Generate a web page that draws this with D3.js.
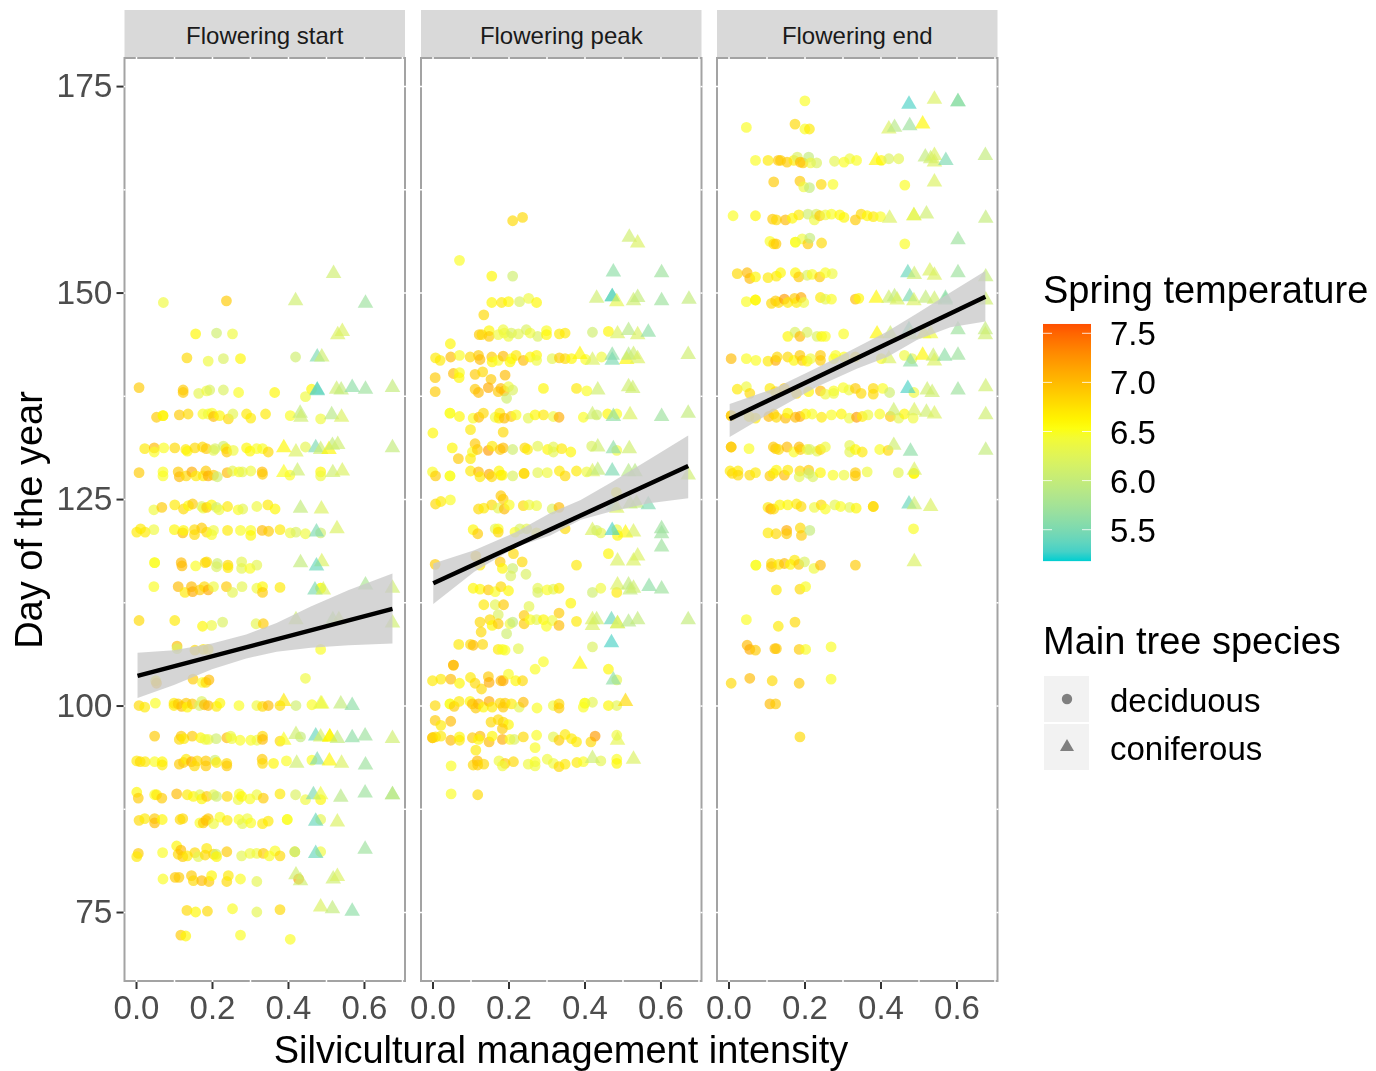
<!DOCTYPE html>
<html lang="en">
<head>
<meta charset="UTF-8">
<title>Flowering phenology</title>
<script src="https://d3js.org/d3.v7.min.js"></script>
<style>
  body { margin: 0; background: #fff; }
  svg { display: block; font-family: "Liberation Sans", Arial, sans-serif; filter: blur(0.45px); }
</style>
</head>
<body>
<div id="chart"></div>
<script>
// each point is [management intensity, day of year, spring temperature]
const startDeciduous = [
[.072,148.8,6.4],[.238,149,6.9],[.157,145,6.6],[.212,145.1,6.1],[.254,145,6.4],[.134,142.1,6.8],[.19,141.7,6.4],[.23,142,6.2],[.275,142,6.6],[.42,142.2,6.1],
[.008,138.5,6.9],[.124,138.2,6.9],[.124,137.9,6.9],[.165,137.8,6.3],[.186,138.1,6.4],[.194,138.2,6.2],[.23,138.2,6.2],[.27,137.9,6.5],[.365,137.9,6.6],[.462,138.3,6.6],[.446,137.4,6.4],
[.054,134.9,6.9],[.071,135.1,6.7],[.071,135.1,6.6],[.114,135.2,6.9],[.137,135.3,6.8],[.176,135.3,6.5],[.19,135.3,6.4],[.2,135.4,6.5],[.204,135,7],[.22,135.1,6.6],[.243,134.7,6.8],[.255,135.3,6.3],[.291,135.3,6.7],[.302,134.8,6.7],[.341,135.3,6.7],[.406,135.1,6.5],[.486,134.7,6.4],
[.023,131.1,6.7],[.048,131.2,7],[.048,130.7,6.5],[.073,131.2,6.5],[.102,131.2,6.8],[.131,131,6.7],[.135,130.8,6.6],[.155,131.2,6.8],[.175,131.3,6.8],[.185,131.1,6.9],[.204,130.9,6.3],[.208,131.1,6.2],[.23,131.4,6.1],[.237,131.1,6.7],[.239,130.7,6.9],[.256,130.9,6.4],[.291,131.2,6.6],[.3,130.8,6.6],[.318,131.1,6.5],[.333,131.1,6.5],[.348,130.7,6.8],[.446,131.3,6.3],
[.008,128.2,6.9],[.071,128.3,6.5],[.071,127.8,6.5],[.111,128.3,6.9],[.114,127.7,7],[.132,127.8,6.8],[.147,128.3,7.1],[.158,127.8,6.7],[.177,127.8,6.7],[.184,128.4,6.9],[.19,127.8,7.1],[.204,127.9,6.9],[.214,127.7,6.1],[.24,128.2,7],[.254,128.4,6.3],[.271,128.3,6.5],[.28,128.3,6.3],[.302,128.4,6.4],[.332,128.3,7],[.333,128,6.9],[.405,127.9,6.5],[.486,128.3,6.6],[.486,127.8,6.4],
[.047,123.7,6.4],[.068,124,6.9],[.102,124.3,6.7],[.125,123.8,6.8],[.138,124.2,6.6],[.149,124.4,6.9],[.173,124.1,6.2],[.177,123.9,6.4],[.186,124,6.9],[.199,124.3,6.6],[.212,124,6.1],[.219,123.7,6.4],[.241,124.1,6.7],[.269,123.7,6.5],[.281,123.8,6.3],[.318,124.1,6.4],[.347,124.3,6.7],[.366,123.8,6.6],
[.002,121,6.7],[.012,121.4,6.7],[.024,121,6.7],[.047,121.3,6.4],[.101,121.3,6.6],[.123,120.9,7],[.125,121.2,6.6],[.154,121.3,6.8],[.154,120.7,6.8],[.173,121.5,6.9],[.186,121,6.8],[.199,120.7,6.5],[.204,121.2,6.4],[.241,121.2,6.7],[.275,121.2,6.5],[.302,121.2,6.5],[.302,120.6,6.6],[.332,121.2,7],[.349,121.1,6.9],[.379,121.3,6.7],[.406,120.9,6.4],[.421,121,6.2],[.446,120.8,6.4],[.486,120.9,6.1],
[.049,117.3,6.5],[.049,117.3,6.5],[.119,117.3,7],[.121,116.9,7],[.157,116.9,6.5],[.182,117.3,6.8],[.186,117.4,6.8],[.214,117.2,6.1],[.212,116.8,6.2],[.242,117,6.8],[.242,116.7,6.7],[.278,117.4,6.3],[.278,116.6,6.3],[.3,116.6,6.5],[.318,117,6.3],
[.047,114.4,6.5],[.111,114.4,7],[.129,113.7,6.7],[.146,114.4,7],[.149,113.8,7.1],[.168,114,6.9],[.18,114.4,6.8],[.19,114,7.1],[.204,114.4,6.4],[.238,114.4,6.9],[.254,113.7,6.3],[.279,114.4,6.3],[.318,114.2,6.4],[.333,114.4,6.6],[.333,113.7,6.9],[.379,114.3,6.7],[.486,114.2,6.5],[.486,114.2,6.5],
[.008,110.3,6.8],[.102,110.3,6.7],[.175,109.6,6.6],[.199,109.7,6.4],[.228,110.1,6.2],[.316,109.9,6.3],[.335,109.9,6.9],
[.108,107.2,7],[.108,106.9,6.2],[.155,106.7,6.8],[.177,106.8,6.7],[.19,106.8,6.7],[.486,106.8,6.5],
[.052,103,6.6],[.054,102.7,7],[.15,103.2,6.9],[.175,102.8,6.5],[.184,102.8,6.8],[.192,103.1,7],[.446,103.3,6.4],
[.008,100,6.8],[.023,99.8,6.7],[.051,100.3,6.5],[.1,100.3,6.7],[.1,100,6.7],[.111,100.2,6.9],[.12,99.9,7],[.132,100.3,6.9],[.135,99.8,6.6],[.148,100.2,6.9],[.167,100,6.2],[.173,100.5,6.2],[.18,100.1,7],[.19,100,7],[.212,99.9,6.7],[.221,100.3,6.6],[.271,100,6.5],[.318,100,6.4],[.333,99.9,6.8],[.348,100,7],[.379,100,6.8],[.421,100,6.1],[.463,100.1,6.5],
[.049,96.3,6.9],[.114,95.9,6.8],[.119,96.3,6.9],[.126,96,6.7],[.148,96.3,6.9],[.17,96.1,6.6],[.182,95.9,6.4],[.19,95.9,6.4],[.211,96,6.1],[.239,96.1,7],[.249,96.3,6.4],[.252,96,6.4],[.274,95.8,6.5],[.302,95.8,6.5],[.318,95.8,6.4],[.333,96.3,6.8],[.333,95.9,7],[.379,95.7,6.8],[.433,96.2,6],
[.002,93.3,6.7],[.011,93.2,6.8],[.024,93.2,6.7],[.049,93.2,6.5],[.069,93.2,6.6],[.069,92.8,6.7],[.114,92.9,6.9],[.125,93.1,6.9],[.132,93.5,6.7],[.146,93.2,7.1],[.154,92.7,6.8],[.161,93.3,6.8],[.184,93.3,6.9],[.184,92.7,6.9],[.208,93.4,6.1],[.212,93.1,6.7],[.239,93,6.8],[.239,92.7,6.9],[.332,93.5,6.9],[.333,93,6.8],[.362,93,6.6],[.396,93.3,6.5],[.463,93.4,6.5],
[.002,89.5,6.6],[.006,88.8,6.9],[.049,89.2,6.5],[.054,89.2,6.7],[.068,88.8,6.9],[.107,89.3,7],[.135,89.2,6.7],[.151,89,6.6],[.168,89.2,6.3],[.173,88.7,6.6],[.186,89,6.9],[.204,89.2,6.3],[.212,89,6.1],[.24,89,6.8],[.272,89.3,6.5],[.269,88.6,6.4],[.278,89,6.6],[.3,88.7,6.5],[.318,89.2,6.4],[.335,88.8,6.9],[.379,89.3,6.7],[.42,89.2,6.2],[.446,88.6,6.4],[.486,88.6,6.6],
[.008,86.1,6.8],[.023,86.3,6.7],[.049,86.3,6.9],[.049,85.8,7],[.069,86.2,6.6],[.116,86.2,6.8],[.123,86.3,6.8],[.168,85.8,6.5],[.177,85.8,6.9],[.184,86.1,7],[.19,86.3,6.9],[.204,85.7,6.4],[.221,86.5,6.5],[.24,86.1,6.7],[.271,86.2,6.5],[.28,85.7,6.3],[.293,86.3,6.4],[.302,85.8,6.5],[.333,85.7,6.7],[.348,86,6.7],[.398,86.2,6.5],[.398,86.2,6.5],[.486,86.2,6.3],
[.006,82.1,6.9],[.002,81.7,6.7],[.07,82.2,6.5],[.107,83,6.6],[.111,82,6.8],[.118,82.5,7],[.123,81.7,6.9],[.135,81.8,6.7],[.155,82.2,6.8],[.164,81.7,6.3],[.186,82.7,6.7],[.182,81.9,6.8],[.204,82,6.8],[.211,82,6.1],[.212,81.7,6.6],[.239,82.3,6.9],[.278,81.8,6.3],[.3,82.1,6.4],[.318,82.1,6.4],[.335,82.1,6.9],[.351,81.8,6.5],[.366,82.4,6.5],[.379,81.8,6.8],[.418,82.3,6.7],[.418,82.3,6],[.486,82.3,6.4],
[.071,79,6.5],[.103,79.2,6.9],[.113,79.2,6.9],[.146,79.4,6.9],[.151,78.8,6.8],[.173,78.8,7],[.192,78.7,6.9],[.199,79.4,6.6],[.239,78.7,6.8],[.243,79.4,6.7],[.275,79,6.5],[.318,78.7,6.3],[.428,79,7.2],
[.134,75.2,6.8],[.157,75,6.6],[.188,75.1,6.8],[.254,75.4,6.5],[.318,75,6.3],[.379,75.3,6.8],
[.118,72.2,6.9],[.131,72.1,6.6],[.275,72.2,6.5],[.406,71.7,6.5]
];
const startConiferous = [
[.52,152.3,6.1],[.42,149,6.1],[.604,148.7,5.7],[.531,144.9,6.2],[.543,145.3,6.2],[.477,142.2,5.5],[.489,142.2,6.1],
[.477,138.2,5.3],[.477,138.1,5.4],[.528,138.3,6.1],[.54,138.2,6],[.569,138.5,5.6],[.604,138.3,5.7],[.675,138.5,6],
[.432,135.4,6],[.434,134.9,6.1],[.515,135.2,5.9],[.541,134.9,6.2],
[.389,131.2,6.6],[.421,130.7,6.2],[.473,131.2,5.5],[.486,131,6.1],[.508,131,6.6],[.517,131.5,6],[.531,131.6,6.1],[.675,131.2,6],
[.389,128.2,6.5],[.425,128.4,6.1],[.518,128.2,6.1],[.543,128.4,6.2],[.433,123.9,6],[.488,123.8,6.2],
[.475,121,5.5],[.529,121.4,6.2],[.433,117.3,6],[.489,117.4,6.2],[.475,116.9,5.4],
[.471,114,5.5],[.493,114,6.2],[.604,114.6,5.8],[.675,114.2,6.1],
[.421,110.4,6.1],[.518,110.4,5.9],[.534,110.4,6.1],[.675,110,6.1],
[.389,100.5,6.7],[.486,100.2,6.3],[.489,100.2,6.4],[.539,100.2,6],[.569,100,5.6],
[.389,95.8,6.5],[.421,96.5,6.1],[.473,96.3,5.4],[.486,96.2,6.2],[.51,96.2,6.6],[.51,96.2,6.6],[.53,96,6],[.569,96.1,5.6],[.603,96.3,5.7],[.675,96,6.1],
[.423,93,6.1],[.477,93.4,5.5],[.509,93.3,6.6],[.541,93,6.2],[.604,92.8,5.7],
[.467,89.2,5.5],[.486,89.2,6.4],[.539,88.9,5.9],[.603,89.4,5.7],[.675,89.2,5.9],[.675,89.2,5.9],
[.473,86,5.4],[.53,85.9,6.2],[.473,82.1,5.4],[.603,82.6,5.7],
[.421,79.5,6.1],[.433,78.8,6.1],[.519,79,6.1],[.53,79.3,6.2],[.486,75.6,6.2],[.517,75.4,6],[.569,75.1,5.6]
];
const peakDeciduous = [
[.211,158.7,6.8],[.237,159.1,6.8],[.071,153.9,6.5],[.156,152,6.6],[.211,152,6.1],
[.156,148.8,6.6],[.182,148.8,6.7],[.2,148.9,6.6],[.229,148.9,6.2],[.253,149.3,6.4],[.274,148.8,6.6],[.135,147.3,6.8],
[.149,145.4,6.6],[.123,144.9,6.9],[.13,144.9,6.8],[.149,144.7,6.9],[.173,144.9,6.4],[.186,145.5,6.4],[.189,145.1,6.4],[.2,144.7,6.4],[.208,145.1,6.2],[.226,145,6.3],[.247,145.5,6.2],[.257,145.1,6.4],[.277,144.7,6.2],[.3,145.4,6.5],[.3,144.9,6.6],[.334,145,6.7],[.349,145.1,6.7],[.421,145.2,6.1],[.463,145.3,6.6],
[.047,143.8,6.6],[.008,142.1,6.7],[.02,141.8,6.7],[.048,142.2,7],[.071,142.4,6.5],[.099,142.2,6.8],[.121,142.4,6.9],[.125,141.9,7],[.156,142.2,6.9],[.157,141.6,6.6],[.173,141.8,6.5],[.186,142.3,7],[.208,142,6.5],[.204,141.6,6.6],[.22,142.4,6.7],[.239,141.8,7],[.257,142.2,6.6],[.274,142.4,6.6],[.274,141.8,6.4],[.315,142,6.3],[.334,142.1,6.9],[.349,142,6.8],[.366,142,6.6],[.403,141.9,6.5],[.445,142.2,6.4],
[.007,139.7,6.9],[.055,140.2,7],[.071,140.3,6.5],[.07,139.7,6.6],[.112,140.1,6.9],[.132,140.4,6.8],[.154,139.5,6.9],[.191,140,7],
[.007,138,6.9],[.112,138.3,6.9],[.121,137.9,7],[.147,138.5,7.1],[.173,138,6.9],[.18,138.4,7],[.189,138.1,7],[.2,138.6,6.4],[.211,138.2,6.2],[.195,137.2,6.1],[.292,138.4,6.6],[.379,138.4,6.7],[.406,138.1,6.5],
[.046,135.4,6.5],[.046,135.4,6.5],[.071,135,6.6],[.107,134.8,6.5],[.122,134.9,7],[.134,135.4,6.8],[.165,134.9,6.4],[.177,135.4,6.7],[.175,134.8,6.7],[.189,134.8,7],[.207,135,6.9],[.22,135.2,6.5],[.252,134.8,6.3],[.27,135.2,6.6],[.292,135.2,6.7],[.318,135,6.4],[.333,134.9,7.1],[.397,134.9,6.5],[.432,135.2,6.1],[.461,135.3,6.6],[.485,135.3,6.5],
[.001,133,6.6],[.1,133.4,6.7],[.186,133.1,6.8],
[.052,131.2,6.6],[.112,131.7,6.9],[.105,130.7,6.5],[.118,131,6.9],[.147,130.9,7.2],[.157,131.4,6.7],[.178,131,6.9],[.186,131.2,7],[.211,131,6.1],[.243,131.2,6.8],[.25,131,6.7],[.277,131.4,6.3],[.303,131,6.6],[.318,131.3,6.3],[.318,130.7,6.3],[.34,131.1,6.7],[.364,130.7,6.6],[.419,131.4,6.2],[.485,130.9,6.4],
[.068,129.9,6.9],[.1,129.9,6.7],
[0,128.3,6.5],[.008,127.8,6.9],[.046,127.8,6.5],[.046,127.8,6.5],[.1,128.4,6.7],[.121,128.3,7],[.125,127.7,6.7],[.149,128,7.1],[.156,127.7,6.8],[.175,128.4,6.6],[.18,127.9,6.7],[.184,127.9,6.6],[.211,127.8,6.2],[.241,128.1,6.8],[.241,128.1,6.8],[.277,128.2,6.3],[.302,128.2,6.4],[.334,128.4,6.7],[.349,127.8,6.8],[.379,128.4,6.7],[.406,128.3,6.4],
[.008,124.4,6.8],[.022,124.7,6.7],[.047,124.9,6.5],[.18,125.4,6.9],[.186,125,6.9],[.121,123.8,6.8],[.135,123.9,6.7],[.156,124.3,6.8],[.173,123.9,6.3],[.189,123.8,7],[.202,124.3,6.5],[.239,124.2,6.8],[.254,124.3,6.4],[.274,124.2,6.4],[.315,123.8,6.2],[.333,124,7],[.484,125.8,6.6],
[.107,121.3,6.6],[.119,120.8,6.9],[.165,121.4,6.3],[.173,121.4,6.5],[.173,121,6.8],[.217,121,6.5],[.23,121.4,6.2],[.248,121.4,6.3],[.274,120.9,6.5],[.349,121.4,6.8],[.432,121.2,6.1],[.443,120.9,6.3],[.485,121.3,6.4],[.487,120.6,6.6],
[.463,118.4,6.6],[.007,117.1,6.9],[.114,118.1,6.9],[.125,117,6.7],[.178,117.4,6.9],[.184,116.6,6.6],[.213,118.4,6.8],[.236,117.4,6.8],[.211,116.6,6.1],[.206,115.7,6.2],[.246,115.9,6.2],[.379,117,6.7],
[.107,114.2,6.6],[.125,114.1,6.6],[.147,114,6.9],[.165,113.8,6.5],[.18,114.4,6.8],[.2,113.9,6.6],[.277,114.2,6.3],[.277,113.7,6.2],[.302,114,6.5],[.318,114.1,6.3],[.333,114.2,6.7],[.421,113.7,6.1],[.443,114.2,6.4],[.485,113.7,6.7],
[.135,112.2,6.7],[.165,112.2,6.3],[.187,112.2,6.9],[.254,112,6.3],[.364,112.4,6.6],[.333,111.2,6.9],[.173,111,6.2],[.125,110.1,6.8],[.151,110.4,6.8],[.157,109.7,6.6],[.173,109.9,6.9],[.204,109.9,6.4],[.211,110.1,6],[.241,110.9,6.9],[.241,109.9,6.9],[.257,110.4,6.5],[.274,110.4,6.3],[.292,110.4,6.6],[.3,109.6,6.5],[.315,110.3,6.4],[.333,109.7,7],[.379,110.2,6.7],
[.128,108.9,6.8],[.195,108.7,6.1],[.069,107.4,6.7],[.1,107.4,6.8],[.107,107.3,7],[.132,107.4,6.8],[.173,106.8,6.7],[.184,106.8,6.5],[.191,106.7,6.5],[.226,106.9,6.3],[.421,107.1,6.2],
[.055,104.9,7],[.055,104.9,7],[.27,104.4,6.5],[.292,105.3,6.5],[.463,104.4,6.6],
[0,103,6.7],[.022,103.2,6.7],[.048,103.2,7],[.071,102.7,6.6],[.1,103.4,6.7],[.112,102.7,6.8],[.129,102,6.8],[.147,103.5,6.9],[.149,102.8,7.1],[.18,103,7],[.186,103,7.1],[.2,103.8,6.5],[.219,103,6.6],[.237,103,6.8],[.485,103.1,6.3],
[.007,100,6.8],[.046,100.2,6.5],[.046,100.2,6.5],[.057,99.9,6.9],[.07,100.5,6.7],[.099,100.5,6.6],[.105,100.2,7],[.114,99.7,6.9],[.121,100.2,7],[.134,99.8,6.6],[.149,100.5,7.1],[.157,99.8,6.7],[.178,100.3,6.8],[.186,99.8,6.9],[.191,100.3,6.9],[.208,100.2,6.7],[.228,99.8,6.3],[.239,100.4,7],[.275,99.7,6.5],[.318,100,6.4],[.333,100.2,6.8],[.333,99.7,6.9],[.397,99.8,6.5],[.401,100.3,6.5],[.401,100.3,6.5],[.421,100.4,6.3],[.463,100,6.6],[.485,100,6.3],
[.007,98.2,6.9],[.022,97.6,6.7],[.048,98.1,7],[.154,98,6.8],[.173,98.3,6.8],[.186,98,6.8],[.2,97.7,6.6],[.184,97.2,6.9],
[0,96.1,6.9],[0,96.1,6.9],[.008,96.2,6.8],[.022,96.3,6.7],[.048,95.8,7],[.071,96.2,6.6],[.071,95.8,6.7],[.105,96.1,6.9],[.125,96.3,7],[.121,95.9,6.6],[.149,95.6,7],[.157,96.3,6.6],[.184,95.9,7.1],[.204,95.9,6.5],[.215,95.9,6.2],[.239,96.2,6.8],[.274,96.4,6.5],[.318,96.2,6.3],[.333,95.8,6.9],[.349,96.5,6.7],[.366,96,6.7],[.379,95.6,6.7],[.417,95.6,6.8],[.428,96.3,7.2],[.485,96.4,6.4],
[.114,94.6,6.7],[.27,94.9,6.5],
[.049,92.7,6.5],[.107,92.8,6.8],[.118,93.3,7],[.119,92.8,6.9],[.135,92.9,6.8],[.175,93.3,6.4],[.191,93,6.9],[.184,92.7,6.4],[.213,93.2,6.8],[.252,92.9,6.4],[.27,93.2,6.5],[.27,92.7,6.4],[.302,93.5,6.4],[.318,93,6.4],[.333,92.6,6.8],[.349,92.9,6.7],[.38,93.1,6.7],[.397,93.2,6.5],[.443,93.3,6.3],[.485,93.5,6.5],[.485,93,6.6],
[.049,89.3,6.5],[.119,89.2,6.8]
];
const peakConiferous = [
[.518,156.7,6.1],[.54,156,6.2],[.476,152.5,5.6],[.603,152.4,5.7],
[.432,149.3,6.1],[.473,149.5,5.3],[.473,149.5,5.4],[.485,148.9,6.3],[.529,149,6.1],[.54,149.4,6],[.603,149,5.7],[.675,149.2,6],
[.487,145,6.2],[.516,145.4,5.9],[.54,144.9,6.2],[.568,145.2,5.6],
[.388,142.5,6.6],[.421,141.8,6.2],[.473,142.4,5.6],[.473,141.8,5.5],[.511,141.9,6.6],[.516,142.4,5.9],[.529,142.5,6.1],[.54,142,6.2],[.673,142.5,6.1],
[.435,138.2,6.1],[.516,138.6,6.1],[.527,138.4,6.1],
[.421,135.2,6.1],[.476,135,5.6],[.52,135.2,6.2],[.603,135,5.7],[.673,135.4,6],
[.435,131.3,6.1],[.476,131.1,5.6],[.518,131.1,6.1],
[.421,128.3,6.2],[.435,128.5,6],[.473,128.4,5.5],[.516,128.3,5.9],[.533,128.3,5.9],[.673,127.9,6.1],
[.476,124.2,5.6],[.485,123.9,6.2],[.52,124.4,6],[.537,124.5,6],[.568,124.3,5.5],
[.421,121.2,6.2],[.473,121.2,5.3],[.508,120.9,6.6],[.529,121,6.2],[.603,121.4,5.7],[.603,120.8,5.7],
[.603,119.2,5.7],[.487,117.5,6.2],[.529,117.5,6.2],[.54,118.1,6.2],
[.487,114.6,6.2],[.516,114.6,6],[.52,114,6],[.529,114.2,6.1],[.57,114.4,5.6],[.603,114.1,5.7],
[.421,110.4,6.2],[.432,110.4,6.1],[.421,109.7,6.2],[.471,110.4,5.4],[.487,109.9,6.2],[.487,109.9,6.2],[.516,110.1,5.9],[.54,110.4,6],[.673,110.4,6],
[.471,107.6,5.3],[.388,105,6.6],[.476,103.1,5.6],[.508,100.5,6.8],[.487,95.8,6.3],[.421,93.6,6.1],[.529,93.5,6.2]
];
const endDeciduous = [
[.201,173.2,6.5],[.047,170,6.5],[.175,170.4,6.8],[.201,169.8,6.5],[.213,169.8,6.7],
[.071,166,6.5],[.104,166,6.7],[.131,166,6.9],[.137,166,6.9],[.154,165.8,6.9],[.172,166,6.7],[.181,166.4,6.2],[.189,165.8,7],[.196,165.7,6.9],[.211,166.4,6],[.216,165.7,6.4],[.232,165.7,6.2],[.279,165.9,6.3],[.304,165.8,6.5],[.319,166.2,6.4],[.337,166,6.5],[.402,166,6.6],[.422,166.2,6.2],[.448,166.2,6.3],
[.119,163.4,6.9],[.188,163.5,6.9],[.198,162.8,6.4],[.213,162.7,6],[.244,163.1,6.8],[.275,163.1,6.5],[.464,163,6.5],
[.012,159.3,6.5],[.071,159.3,6.6],[.116,158.9,6.9],[.126,158.8,6.8],[.15,158.8,7],[.168,159,6.6],[.185,159.4,6.7],[.209,159.5,6.1],[.226,158.8,6.4],[.231,159.5,6.2],[.24,159.3,6.9],[.255,159.4,6.4],[.271,159.5,6.5],[.293,159.4,6.6],[.304,159.1,6.6],[.334,158.8,6.9],[.349,159.5,6.8],[.365,159.3,6.6],[.381,159.2,6.7],[.4,159.2,6.5],
[.109,156.2,6.5],[.119,155.9,6.8],[.125,155.9,6.9],[.176,156.1,6.5],[.176,156.1,6.5],[.194,156.5,6.4],[.209,155.9,6.9],[.214,156.6,6],[.245,156,6.8],[.464,155.9,6.5],
[.023,152.3,6.8],[.049,152.4,7],[.056,151.7,7],[.071,151.9,6.6],[.104,151.8,6.7],[.126,152,6.7],[.137,152.4,6.6],[.176,152.4,6.6],[.185,151.9,6.9],[.207,152.1,6.2],[.22,152.2,6.5],[.24,151.9,6.9],[.255,152.4,6.5],[.273,152.3,6.4],
[.047,148.9,6.5],[.071,149.1,6.6],[.071,149.1,6.6],[.113,148.7,6.8],[.124,149,6.9],[.132,148.8,6.8],[.147,149.2,7.2],[.156,148.8,6.7],[.174,149.3,6.9],[.179,148.8,6.7],[.191,149.4,7.1],[.198,148.8,6.4],[.242,149.4,6.7],[.255,149.2,6.3],[.271,149.2,6.5],[.334,149.2,7],[.343,149.3,6.6],
[.156,144.7,6.6],[.175,145.2,6.2],[.188,144.7,7],[.207,145.2,6.2],[.233,144.7,6.2],[.245,144.7,6.6],[.255,144.7,6.5],[.303,145,6.5],
[.007,142,7],[.047,142,6.5],[.072,141.8,6.5],[.104,141.7,6.7],[.124,141.8,7.1],[.128,142.2,6.8],[.156,142.2,6.8],[.172,141.8,6.6],[.188,142.4,6.9],[.194,141.8,6.9],[.207,141.7,6.6],[.216,142,6.4],[.242,142.4,6.9],[.242,141.8,6.9],[.277,142,6.5],[.282,142.4,6.5],[.304,142.2,6.5],[.334,142.2,6.8],[.402,142,6.5],[.463,142.4,6.4],[.483,142,6.3],
[.023,138.3,6.7],[.047,138.6,6.4],[.056,137.8,6.8],[.109,138.4,6.7],[.124,138,6.8],[.147,138.4,6.9],[.179,137.8,6.8],[.211,138,6.6],[.242,138.1,7],[.255,137.7,6.4],[.277,138.1,6.5],[.277,137.8,6.4],[.302,138.5,6.5],[.317,138.2,6.4],[.334,138.4,6.9],[.349,137.8,6.8],[.381,138.4,6.8],[.381,137.7,6.8],[.406,138.4,6.5],[.424,137.9,6.1],[.488,137.9,6.4],
[.007,135.1,6.9],[.007,135.1,6.9],[.054,135,6.7],[.071,134.8,6.7],[.106,135,7],[.119,135.3,6.9],[.126,134.9,6.8],[.15,134.8,7],[.156,135.4,6.6],[.176,134.9,7],[.188,135,7.1],[.203,135.3,6.6],[.22,135.3,6.5],[.245,134.9,6.7],[.271,135.2,6.5],[.297,135.3,6.6],[.318,134.8,6.4],[.337,134.9,7.2],[.352,135,6.7],[.367,135.2,6.4],[.398,135.3,6.5],[.426,135,6.9],[.448,134.8,6.3],[.463,135.3,6.6],[.486,134.8,6.4],
[.007,131.3,6.9],[.007,131.3,6.9],[.054,131.1,6.5],[.118,131.3,6.9],[.124,131.1,6.9],[.132,131,6.8],[.154,131.3,7],[.172,130.7,6.5],[.186,131.3,7],[.189,131,6.9],[.207,131,6.4],[.214,131,6.2],[.233,130.8,6.3],[.242,131,6.8],[.255,131.3,6.4],[.319,131.5,6.3],[.319,130.7,6.3],[.334,131,6.6],[.352,130.7,6.7],[.398,131,6.5],[.42,130.9,6.8],
[.004,128.4,6.7],[.01,128.1,6.8],[.025,128.4,6.7],[.025,127.9,6.8],[.056,127.9,6.8],[.071,128.2,6.7],[.109,127.8,6.9],[.126,128.5,6.6],[.118,128.1,6.7],[.147,127.9,7],[.156,128.5,6.7],[.188,128.4,6.8],[.186,127.7,6.3],[.211,128.5,6.9],[.211,128.1,6.1],[.222,127.7,6.2],[.242,128.2,6.6],[.275,127.9,6.5],[.304,127.9,6.4],[.334,128.2,6.9],[.334,127.8,6.9],[.365,128.3,6.4],[.447,128.2,6.3],[.488,128.1,6.6],[.488,128.1,6.6],
[.104,124,6.7],[.111,123.8,7.1],[.119,123.8,6.8],[.135,124.3,6.6],[.156,124.3,6.6],[.179,124.4,6.7],[.191,124.1,6.8],[.226,124,6.4],[.244,124.3,6.8],[.255,123.8,6.5],[.28,124.3,6.3],[.295,124.1,6.5],[.319,124,6.3],[.336,123.9,6.6],[.381,124.1,6.8],[.381,124.1,6.8],
[.104,120.9,6.7],[.125,120.8,6.8],[.153,121.2,7.1],[.153,120.8,6.9],[.189,121.5,6.8],[.192,120.6,6.9],[.214,121.2,6],[.487,121.4,6.5],
[.072,117,6.5],[.072,117,6.5],[.113,117.2,6.8],[.113,116.8,6.9],[.132,117.1,6.7],[.147,117.2,7],[.163,117.1,6.6],[.174,117.6,6.7],[.185,117.1,6.9],[.2,117.4,6.2],[.225,116.6,6.4],[.242,117,7],[.334,117,6.9],
[.126,114,6.7],[.188,114.1,6.8],[.203,114.4,6.5],[.047,110.4,6.5],[.131,109.6,6.7],[.175,110.1,6.8],
[.049,107.3,7],[.056,106.8,7.1],[.071,106.7,6.9],[.122,106.9,7],[.126,106.9,6.9],[.186,106.8,6.9],[.203,106.8,6.5],[.27,107.1,6.5],
[.007,102.7,6.8],[.056,103.3,7],[.115,103,6.8],[.186,102.7,6.9],[.27,103.2,6.5],[.109,100.2,7],[.124,100.2,6.9],[.188,96.2,6.8]
];
const endConiferous = [
[.475,172.8,5.3],[.542,173.4,6.2],[.604,173.1,5.6],[.604,173.1,5.6],[.422,169.8,6.2],[.437,170,5.9],[.477,170.2,5.7],[.511,170.4,6.6],
[.389,166,6.6],[.518,166.4,6],[.532,166.2,6.1],[.542,166.6,6.2],[.542,165.8,6.2],[.572,166,5.5],[.676,166.6,6],
[.542,163.4,6.2],[.424,159,6.2],[.488,159.3,6.3],[.488,159.3,6.3],[.521,159.5,6.1],[.677,159,6],[.604,156.4,5.7],
[.472,152.4,5.4],[.489,152.2,6.1],[.53,152.6,6.2],[.542,152.1,6.2],[.604,152.4,5.7],[.677,151.9,6],
[.389,149.3,6.6],[.422,149.3,6.1],[.437,149.5,6],[.444,149.1,6.2],[.477,149.5,5.5],[.488,149,6.2],[.519,149.3,6],[.542,149.2,6.1],[.571,149.3,5.6],[.571,149.1,5.6],[.677,149.1,6.1],
[.391,145,6.6],[.426,145,6.1],[.475,145.5,5.4],[.479,144.9,6],[.514,145,6.5],[.532,145,6.4],[.604,145.5,5.7],[.676,145.5,6],[.676,144.9,6.1],
[.422,142,6.2],[.479,141.6,5.6],[.511,142.4,6.6],[.539,142.3,6.1],[.542,141.7,6.2],[.569,142.3,5.6],[.604,142.4,5.7],
[.472,138.4,5.3],[.523,138.2,6.1],[.536,137.9,6.1],[.604,138.2,5.7],[.677,138.6,6.1],
[.435,135.7,6.1],[.489,135.7,6.2],[.521,135.5,6.1],[.542,135.3,6.2],[.677,135.2,6.1],
[.435,131.5,6.1],[.479,130.8,5.6],[.677,130.9,6],[.489,128.5,6.2],
[.475,124.4,5.4],[.489,124.3,6.1],[.532,124.1,6.2],[.489,117.4,6.2]
];

const panelNames = ["Flowering start", "Flowering peak", "Flowering end"];
const panelData = [
  [startDeciduous, startConiferous],
  [peakDeciduous, peakConiferous],
  [endDeciduous, endConiferous]
];

// fitted lines and their confidence bands
const ciX = [
  [.004, .1, .2, .29, .37, .46, .56, .675],
  [.002, .11, .22, .31, .39, .47, .57, .673],
  [.003, .12, .233, .339, .418, .497, .584, .676]
];
const ciHigh = [
  [106.4, 106.7, 107.5, 108.6, 110, 112, 114, 116],
  [117.2, 118.8, 121, 123.3, 124.9, 127, 129.8, 132.7],
  [136.5, 138.4, 140.9, 143.4, 145.3, 147.5, 150, 152.6]
];
const ciLow = [
  [100.9, 102.5, 104.4, 105.7, 106.5, 107, 107.3, 107.5],
  [112.3, 116.2, 119.2, 120.6, 122.5, 123.5, 124.5, 125.1],
  [132.5, 135.7, 138.6, 140.8, 142.2, 144.3, 145.8, 146.5]
];
const fitX = [[.004, .675], [.002, .673], [.003, .676]];
const fitY = [[103.6, 111.7], [114.8, 129], [134.7, 149.5]];

const xTicks = [0, .2, .4, .6];
const xGridTicks = [0, .1, .2, .3, .4, .5, .6, .7];
const yTicks = [75, 100, 125, 150, 175];
const yGridTicks = [75, 87.5, 100, 112.5, 125, 137.5, 150, 162.5, 175];
const tempTicks = [5.5, 6, 6.5, 7, 7.5];
const tempStops = [5.18, 6.55, 7.595];
const tempColors = ["#00CED1", "#FFFF00", "#FF4F00"];
const speciesNames = ["deciduous", "coniferous"];

const width = 1376, height = 1071;
const panelLeft = [124.5, 421, 717], panelW = 280.5, panelTop = 58, panelBottom = 981;

const svg = d3.select("#chart").append("svg")
  .attr("width", width).attr("height", height);

const xScale = d3.scaleLinear().domain([-0.0303, 0.708]).range([0, panelW]);
const yScale = d3.scaleLinear().domain([66.65, 178.4]).range([panelBottom, panelTop]);
const color = d3.scaleLinear().domain(tempStops).range(tempColors).interpolate(d3.interpolateLab);

const circle = d3.symbol().type(d3.symbolCircle).size(92);
const triangle = d3.symbol().type(d3.symbolTriangle).size(105);

panelNames.forEach((name, i) => {
  const g = svg.append("g").attr("transform", `translate(${panelLeft[i]},0)`);

  // strip
  g.append("rect").attr("x", 0).attr("y", 10).attr("width", panelW).attr("height", panelTop - 10).attr("fill", "#D9D9D9");
  g.append("text").attr("x", panelW / 2).attr("y", 43.5).attr("text-anchor", "middle")
    .attr("font-size", 24).attr("fill", "#1A1A1A").text(name);

  // points
  panelData[i].forEach((rows, s) => {
    g.append("g").selectAll("path").data(rows).join("path")
      .attr("d", s === 0 ? circle() : triangle())
      .attr("transform", d => `translate(${xScale(d[0])},${yScale(d[1])})`)
      .attr("fill", d => color(d[2]))
      .attr("fill-opacity", 0.66);
  });

  // confidence band and fit
  const band = d3.area()
    .x((d, k) => xScale(ciX[i][k]))
    .y0((d, k) => yScale(ciLow[i][k]))
    .y1((d, k) => yScale(ciHigh[i][k]));
  g.append("path").attr("d", band(ciX[i])).attr("fill", "#CBCBCB").attr("fill-opacity", 0.8);

  const fit = d3.line().x((d, k) => xScale(fitX[i][k])).y(d => yScale(d));
  g.append("path").attr("d", fit(fitY[i])).attr("fill", "none").attr("stroke", "#000").attr("stroke-width", 4.5);

  // panel border, with the white grid stubs showing through it
  g.append("rect").attr("x", 0).attr("y", panelTop).attr("width", panelW).attr("height", panelBottom - panelTop)
    .attr("fill", "none").attr("stroke", "#A3A3A3").attr("stroke-width", 2);

  [d3.axisTop(xScale).tickValues(xGridTicks).tickSize(2), d3.axisBottom(xScale).tickValues(xGridTicks).tickSize(2)]
    .forEach((ax, k) => {
      const a = g.append("g").attr("transform", `translate(0,${(k ? panelBottom : panelTop) + (k ? -1 : 1)})`).call(ax);
      a.select(".domain").remove();
      a.selectAll("text").remove();
      a.selectAll("line").attr("stroke", "#fff").attr("stroke-width", 1.5);
    });
  [0, panelW].forEach(px => {
    const a = g.append("g").attr("transform", `translate(${px + 1},0)`)
      .call(d3.axisLeft(yScale).tickValues(yGridTicks).tickSize(2));
    a.select(".domain").remove();
    a.selectAll("text").remove();
    a.selectAll("line").attr("stroke", "#fff").attr("stroke-width", 1.5);
  });

  // x axis
  const xa = g.append("g").attr("transform", `translate(0,${panelBottom + 1})`)
    .call(d3.axisBottom(xScale).tickValues(xTicks).tickSize(7).tickPadding(7).tickFormat(d3.format(".1f")));
  xa.select(".domain").remove();
  xa.selectAll("line").attr("stroke", "#333").attr("stroke-width", 2);
  xa.selectAll("text").attr("font-size", 33).attr("font-family", "Liberation Sans").attr("fill", "#4D4D4D");
});

// y axis on first panel only
const ya = svg.append("g").attr("transform", `translate(${panelLeft[0] - 1},0)`)
  .call(d3.axisLeft(yScale).tickValues(yTicks).tickSize(7).tickPadding(4));
ya.select(".domain").remove();
ya.selectAll("line").attr("stroke", "#333").attr("stroke-width", 2);
ya.selectAll("text").attr("font-size", 33.5).attr("font-family", "Liberation Sans").attr("fill", "#4D4D4D");

// axis titles
svg.append("text").attr("x", 561).attr("y", 1063).attr("text-anchor", "middle")
  .attr("font-size", 38).attr("fill", "#000").text("Silvicultural management intensity");
svg.append("text").attr("transform", "translate(42,520) rotate(-90)").attr("text-anchor", "middle")
  .attr("font-size", 38).attr("fill", "#000").text("Day of the year");

// colour bar
const barY = d3.scaleLinear().domain([5.5, 7.5]).range([529.7, 333.3]);
const defs = svg.append("defs");
const grad = defs.append("linearGradient").attr("id", "tempBar").attr("x1", 0).attr("x2", 0).attr("y1", 1).attr("y2", 0);
d3.range(0, 1.001, 0.04).forEach(t => {
  grad.append("stop").attr("offset", t)
    .attr("stop-color", color(tempStops[0] + t * (tempStops[2] - tempStops[0])));
});
svg.append("text").attr("x", 1043).attr("y", 303).attr("font-size", 38).attr("fill", "#000").text("Spring temperature");
svg.append("rect").attr("x", 1043).attr("y", barY(tempStops[2])).attr("width", 48)
  .attr("height", barY(tempStops[0]) - barY(tempStops[2])).attr("fill", "url(#tempBar)");
const bar = svg.append("g").attr("transform", "translate(1091,1)")
  .call(d3.axisRight(barY).tickValues(tempTicks).tickSize(0).tickPadding(19).tickFormat(d3.format(".1f")));
bar.select(".domain").remove();
bar.selectAll("text").attr("font-size", 33).attr("font-family", "Liberation Sans").attr("fill", "#000");
svg.append("g").selectAll("path").data(tempTicks).join("path")
  .attr("d", d => `M1043,${barY(d)}h9M1082,${barY(d)}h9`)
  .attr("stroke", "#fff").attr("stroke-opacity", 0.8).attr("stroke-width", 1);

// shape legend
svg.append("text").attr("x", 1043).attr("y", 654).attr("font-size", 38).attr("fill", "#000").text("Main tree species");
const keyY = d3.scaleBand().domain(speciesNames).range([676, 770]).paddingInner(0.04);
const keys = svg.append("g").selectAll("g").data(speciesNames).join("g")
  .attr("transform", d => `translate(1044,${keyY(d)})`);
keys.append("rect").attr("width", 45).attr("height", keyY.bandwidth()).attr("fill", "#F2F2F2");
keys.append("path")
  .attr("d", (d, i) => (i === 0 ? d3.symbol().type(d3.symbolCircle).size(85) : d3.symbol().type(d3.symbolTriangle).size(85))())
  .attr("transform", `translate(23,${keyY.bandwidth() / 2})`)
  .attr("fill", "#808080");
keys.append("text").attr("x", 66).attr("y", keyY.bandwidth() / 2 + 13).attr("font-size", 33).attr("fill", "#000").text(d => d);
</script>
</body>
</html>
